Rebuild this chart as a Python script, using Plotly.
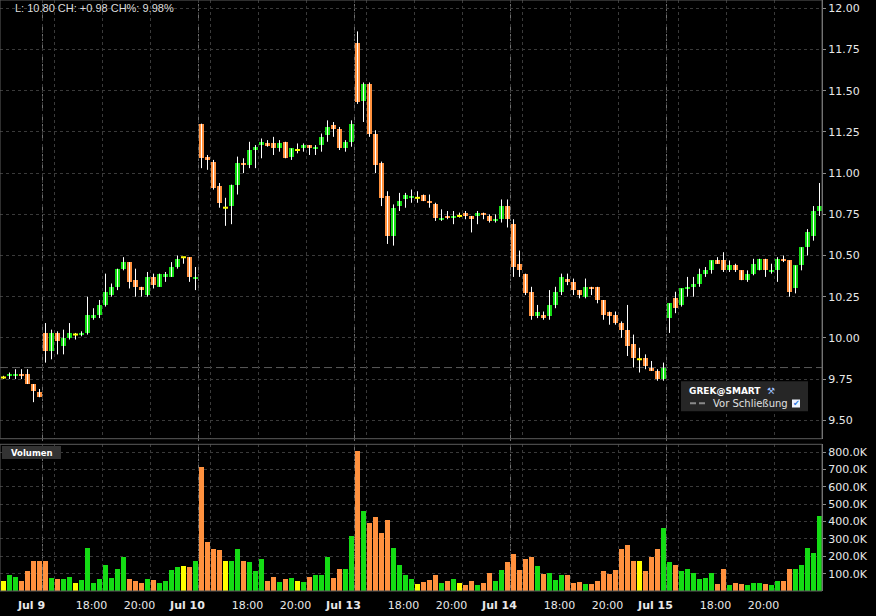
import plotly.graph_objects as go

# ---------------- data ----------------
pre_bars = 7            # last bars of Jul 8 shown before Jul 9
bars_per_day = 26       # 15-minute bars, 15:30-22:00
session_start_h = 15.5
bars_per_hour = 4
day_labels = ["Jul 9", "Jul 10", "Jul 13", "Jul 14", "Jul 15"]
grid_hours = [16, 18, 20]
labelled_hours = [18, 20]

opens = [
    9.76, 9.77, 9.77, 9.78, 9.78, 9.72, 9.67,
    # Jul 9
    10.03, 9.92, 10.03, 9.95, 10.00, 10.02, 10.02, 10.03, 10.12, 10.14, 10.20, 10.26, 10.31,
    10.42, 10.46, 10.35, 10.31, 10.26, 10.37, 10.31, 10.37, 10.37, 10.43, 10.49, 10.49, 10.36,
    # Jul 10
    11.30, 11.10, 11.07, 10.92, 10.79, 10.80, 10.93, 11.06, 11.05, 11.14, 11.17, 11.18, 11.18,
    11.15, 11.19, 11.10, 11.14, 11.15, 11.17, 11.15, 11.17, 11.23, 11.29, 11.27, 11.15, 11.19,
    # Jul 13
    11.79, 11.44, 11.54, 11.24, 11.06, 10.86, 10.62, 10.80, 10.84, 10.85, 10.85, 10.87, 10.83,
    10.81, 10.72, 10.74, 10.73, 10.74, 10.76, 10.74, 10.74, 10.76, 10.74, 10.71, 10.72, 10.80,
    # Jul 14
    10.69, 10.45, 10.39, 10.28, 10.13, 10.14, 10.13, 10.20, 10.28, 10.36, 10.34, 10.29, 10.25,
    10.31, 10.31, 10.23, 10.16, 10.14, 10.09, 10.05, 9.96, 9.87, 9.88, 9.82, 9.80, 9.75,
    # Jul 15
    10.12, 10.24, 10.20, 10.30, 10.31, 10.33, 10.39, 10.41, 10.47, 10.47, 10.41, 10.44, 10.41,
    10.35, 10.39, 10.41, 10.48, 10.40, 10.41, 10.48, 10.47, 10.30, 10.44, 10.55, 10.62, 10.77,
]
highs = [
    9.77, 9.79, 9.81, 9.81, 9.81, 9.72, 9.69,
    10.09, 10.05, 10.04, 10.05, 10.09, 10.03, 10.04, 10.25, 10.18, 10.23, 10.39, 10.33, 10.42,
    10.49, 10.46, 10.42, 10.31, 10.40, 10.39, 10.39, 10.40, 10.46, 10.50, 10.49, 10.49, 10.43,
    11.30, 11.11, 11.08, 10.94, 10.85, 10.93, 11.10, 11.09, 11.19, 11.17, 11.21, 11.20, 11.22,
    11.20, 11.19, 11.15, 11.18, 11.18, 11.17, 11.17, 11.24, 11.32, 11.31, 11.28, 11.20, 11.32,
    11.86, 11.55, 11.55, 11.26, 11.07, 10.89, 10.81, 10.88, 10.88, 10.90, 10.89, 10.87, 10.87,
    10.82, 10.78, 10.77, 10.77, 10.76, 10.77, 10.74, 10.77, 10.76, 10.75, 10.75, 10.84, 10.84,
    10.72, 10.53, 10.39, 10.31, 10.20, 10.16, 10.29, 10.31, 10.39, 10.39, 10.36, 10.29, 10.36,
    10.31, 10.31, 10.23, 10.16, 10.16, 10.10, 10.20, 10.02, 9.94, 9.90, 9.86, 9.81, 9.85,
    10.21, 10.28, 10.30, 10.37, 10.37, 10.42, 10.43, 10.47, 10.49, 10.52, 10.47, 10.45, 10.41,
    10.41, 10.48, 10.48, 10.48, 10.45, 10.49, 10.50, 10.47, 10.44, 10.55, 10.66, 10.80, 10.94,
]
lows = [
    9.75, 9.75, 9.75, 9.75, 9.72, 9.61, 9.64,
    9.85, 9.87, 9.90, 9.90, 9.99, 9.99, 10.01, 10.02, 10.11, 10.12, 10.19, 10.25, 10.29,
    10.41, 10.30, 10.25, 10.25, 10.25, 10.30, 10.31, 10.34, 10.37, 10.42, 10.45, 10.34, 10.29,
    11.03, 11.02, 10.90, 10.79, 10.68, 10.69, 10.87, 11.00, 11.03, 11.03, 11.09, 11.16, 11.11,
    11.13, 11.09, 11.08, 11.12, 11.13, 11.11, 11.11, 11.13, 11.19, 11.22, 11.14, 11.13, 11.16,
    11.42, 11.31, 11.22, 11.00, 10.80, 10.57, 10.56, 10.77, 10.79, 10.82, 10.82, 10.83, 10.79,
    10.71, 10.71, 10.72, 10.69, 10.73, 10.72, 10.64, 10.69, 10.72, 10.70, 10.70, 10.70, 10.67,
    10.37, 10.37, 10.26, 10.11, 10.12, 10.11, 10.11, 10.18, 10.26, 10.32, 10.26, 10.24, 10.24,
    10.26, 10.21, 10.11, 10.08, 10.08, 10.00, 9.89, 9.82, 9.79, 9.81, 9.80, 9.74, 9.74,
    10.03, 10.15, 10.19, 10.25, 10.25, 10.31, 10.37, 10.39, 10.45, 10.40, 10.40, 10.40, 10.35,
    10.34, 10.38, 10.41, 10.37, 10.39, 10.34, 10.46, 10.25, 10.27, 10.41, 10.50, 10.59, 10.74,
]
closes = [
    9.76, 9.78, 9.78, 9.77, 9.72, 9.68, 9.64,
    9.92, 10.03, 9.98, 10.00, 10.03, 10.02, 10.03, 10.14, 10.14, 10.20, 10.28, 10.31, 10.42,
    10.46, 10.34, 10.31, 10.29, 10.37, 10.32, 10.39, 10.39, 10.43, 10.48, 10.49, 10.37, 10.37,
    11.09, 11.08, 10.91, 10.82, 10.79, 10.93, 11.06, 11.05, 11.14, 11.16, 11.19, 11.17, 11.15,
    11.18, 11.09, 11.15, 11.14, 11.17, 11.15, 11.16, 11.22, 11.28, 11.27, 11.15, 11.19, 11.30,
    11.43, 11.54, 11.24, 11.05, 10.85, 10.62, 10.79, 10.83, 10.87, 10.86, 10.85, 10.83, 10.82,
    10.73, 10.73, 10.73, 10.74, 10.74, 10.74, 10.72, 10.76, 10.75, 10.71, 10.72, 10.80, 10.72,
    10.43, 10.41, 10.27, 10.13, 10.16, 10.12, 10.20, 10.28, 10.37, 10.34, 10.29, 10.26, 10.31,
    10.30, 10.23, 10.14, 10.13, 10.09, 10.05, 9.95, 9.88, 9.87, 9.83, 9.80, 9.75, 9.82,
    10.21, 10.18, 10.30, 10.31, 10.33, 10.39, 10.41, 10.47, 10.45, 10.41, 10.44, 10.41, 10.35,
    10.39, 10.45, 10.48, 10.41, 10.41, 10.48, 10.47, 10.28, 10.44, 10.55, 10.64, 10.77, 10.80,
]
volume_k = [
    54, 88, 77, 54, 111, 174, 174,
    169, 71, 65, 65, 77, 42, 59, 249, 42, 65, 151, 71, 128,
    197, 65, 54, 42, 65, 59, 42, 54, 117, 134, 140, 134, 169,
    715, 278, 243, 232, 169, 169, 238, 174, 163, 111, 180, 54, 77,
    48, 65, 71, 54, 48, 77, 88, 88, 192, 71, 123, 123, 318,
    807, 462, 393, 427, 335, 410, 249, 151, 88, 65, 36, 48, 59,
    88, 42, 54, 65, 42, 31, 54, 31, 42, 100, 54, 117, 163,
    209, 117, 180, 197, 140, 94, 100, 59, 88, 88, 42, 48, 36,
    36, 54, 111, 94, 117, 238, 266, 169, 174, 111, 192, 238, 364,
    163, 151, 111, 123, 100, 65, 71, 100, 36, 123, 31, 42, 36,
    31, 42, 42, 36, 31, 54, 54, 123, 128, 146, 249, 215, 433,
]
prev_close = 9.82   # "Vor Schließung"
price_ticks = [9.50, 9.75, 10.00, 10.25, 10.50, 10.75, 11.00, 11.25, 11.50, 11.75, 12.00]
volume_ticks = [100000, 200000, 300000, 400000, 500000, 600000, 700000, 800000]
volume_ticktext = ["100.0K", "200.0K", "300.0K", "400.0K", "500.0K", "600.0K", "700.0K", "800.0K"]

# ---------------- styling ----------------
GREEN = "#14dc14"
ORANGE = "#ff913e"
YELLOW = "#ffff00"
GRID = "#3a3a3a"
TXT = "#e8e8e8"
FONT = "DejaVu Sans"

W, H = 876, 616
ML, MR, MT, MB = 0, 54, 0, 25
PW, PH = W - ML - MR, H - MT - MB


def pxx(x):
    return x / PW


def pxy(y):
    return 1 - y / PH


price_dom = [pxy(438.7), 1.0]
vol_dom = [0.0, pxy(444.3)]

n = len(opens)
xs = list(range(n))
colors = []
for o, c in zip(opens, closes):
    colors.append(GREEN if c > o else (ORANGE if c < o else YELLOW))

# wicks
wx, wy = [], []
for i in xs:
    wx += [i, i, None]
    wy += [lows[i], highs[i], None]

fig = go.Figure()
fig.add_trace(go.Scatter(x=wx, y=wy, mode="lines", line=dict(color="#ffffff", width=1),
                         xaxis="x", yaxis="y", hoverinfo="skip"))
fig.add_trace(go.Bar(x=xs, base=[min(o, c) for o, c in zip(opens, closes)],
                     y=[abs(c - o) for o, c in zip(opens, closes)],
                     width=0.83, marker=dict(color=colors, line=dict(width=0)),
                     xaxis="x", yaxis="y"))
doji = [i for i in xs if opens[i] == closes[i]]
fig.add_trace(go.Scatter(x=doji, y=[closes[i] for i in doji], mode="markers",
                         marker=dict(symbol="line-ew", size=3.6,
                                     line=dict(color=YELLOW, width=2)),
                         xaxis="x", yaxis="y", hoverinfo="skip"))
fig.add_trace(go.Bar(x=xs, y=[v * 1000 for v in volume_k], width=0.83,
                     marker=dict(color=colors, line=dict(width=0)),
                     xaxis="x", yaxis="y2"))

# x ticks
tickvals, ticktext = [], []
day_starts = []
for d, lab in enumerate(day_labels):
    start = pre_bars + d * bars_per_day - 0.5
    day_starts.append(start)
    tickvals.append(start)
    ticktext.append("<b>%s</b>" % lab)
    for hh in grid_hours:
        tickvals.append(start + (hh - session_start_h) * bars_per_hour)
        ticktext.append("%d:00" % hh if hh in labelled_hours else "")

shapes = []
for s in day_starts:
    shapes.append(dict(type="line", xref="x", yref="paper", x0=s, x1=s, y0=0, y1=1,
                       line=dict(color="#6e6e6e", width=1, dash="7px,3px"), layer="below"))
shapes.append(dict(type="line", xref="paper", yref="y", x0=0, x1=1, y0=prev_close, y1=prev_close,
                   line=dict(color="#5a5a5a", width=1, dash="8px,4px"), layer="below"))
for dom in (price_dom, vol_dom):
    shapes.append(dict(type="rect", xref="paper", yref="paper", x0=0, x1=1, y0=dom[0], y1=dom[1],
                       line=dict(color="#5c5c5c", width=1), fillcolor="rgba(0,0,0,0)"))
# "Volumen" tag
shapes.append(dict(type="rect", xref="paper", yref="paper", x0=pxx(2), x1=pxx(61),
                   y0=pxy(459), y1=pxy(446), line=dict(width=0), fillcolor="#333333"))
# legend box
shapes.append(dict(type="rect", xref="paper", yref="paper", x0=pxx(681), x1=pxx(808),
                   y0=pxy(411.3), y1=pxy(381.3), line=dict(width=0), fillcolor="#262626"))
shapes.append(dict(type="line", xref="paper", yref="paper", x0=pxx(690), x1=pxx(706),
                   y0=pxy(403.3), y1=pxy(403.3), line=dict(color="#8a8a8a", width=2, dash="6px,3px")))
shapes.append(dict(type="rect", xref="paper", yref="paper", x0=pxx(792), x1=pxx(800),
                   y0=pxy(407.5), y1=pxy(399.5), line=dict(width=0), fillcolor="#eef4ff"))

last = closes[-1]
ch = last - prev_close
header = "L: %.2f CH: %+.2f CH%%: %.2f%%" % (last, ch, ch / prev_close * 100)

annotations = [
    dict(xref="paper", yref="paper", x=pxx(13), y=pxy(8.5), xanchor="left", yanchor="middle",
         text=header, showarrow=False, font=dict(family="Liberation Sans", size=11, color="#dddddd")),
    dict(xref="paper", yref="paper", x=pxx(9), y=pxy(452.5), xanchor="left", yanchor="middle",
         text="<b>Volumen</b>", showarrow=False, font=dict(family=FONT, size=8.5, color="#ffffff")),
    dict(xref="paper", yref="paper", x=pxx(687), y=pxy(390.7), xanchor="left", yanchor="middle",
         text="<b>GREK@SMART</b>", showarrow=False, font=dict(family=FONT, size=9, color="#ffffff")),
    dict(xref="paper", yref="paper", x=pxx(765), y=pxy(390.7), xanchor="left", yanchor="middle",
         text="\u2692", showarrow=False, font=dict(family=FONT, size=9, color="#9fc3ff")),
    dict(xref="paper", yref="paper", x=pxx(711), y=pxy(403.3), xanchor="left", yanchor="middle",
         text="Vor Schließung", showarrow=False, font=dict(family=FONT, size=10, color="#e0e0e0")),
    dict(xref="paper", yref="paper", x=pxx(796), y=pxy(403.5), xanchor="center", yanchor="middle",
         text="\u2714", showarrow=False, font=dict(family=FONT, size=8, color="#2a78e0")),
]

fig.update_layout(
    width=W, height=H, margin=dict(l=ML, r=MR, t=MT, b=MB),
    paper_bgcolor="#000000", plot_bgcolor="#000000",
    showlegend=False, barmode="overlay", bargap=0,
    font=dict(family=FONT, size=11, color=TXT),
    shapes=shapes, annotations=annotations,
    xaxis=dict(domain=[0, 1], anchor="y2", range=[-0.5833, n - 0.5833],
               tickvals=tickvals, ticktext=ticktext, ticks="", showgrid=True,
               gridcolor=GRID, griddash="dot", gridwidth=1, zeroline=False, showline=False,
               tickfont=dict(family=FONT, size=11, color=TXT), ticklabelshift=-11,
               ticklabelstandoff=6),
    yaxis=dict(domain=price_dom, anchor="x", side="right", range=[9.3883, 12.0504],
               tickvals=price_ticks, tickformat=".2f", ticks="outside", ticklen=3,
               tickcolor="#8a8a8a", showline=True, linecolor="#8a8a8a", linewidth=1,
               showgrid=True, gridcolor=GRID, griddash="dot", zeroline=False,
               tickfont=dict(family=FONT, size=11, color=TXT)),
    yaxis2=dict(domain=vol_dom, anchor="x", side="right", range=[0, 846000],
                tickvals=volume_ticks, ticktext=volume_ticktext, ticks="outside", ticklen=3,
                tickcolor="#8a8a8a", showline=True, linecolor="#8a8a8a", linewidth=1,
                showgrid=True, gridcolor=GRID, griddash="dot", zeroline=False,
                tickfont=dict(family=FONT, size=11, color=TXT)),
)

fig.write_html("out.html", config={"displayModeBar": False},
               post_script="document.body.style.margin='0';document.body.style.background='#000';")
